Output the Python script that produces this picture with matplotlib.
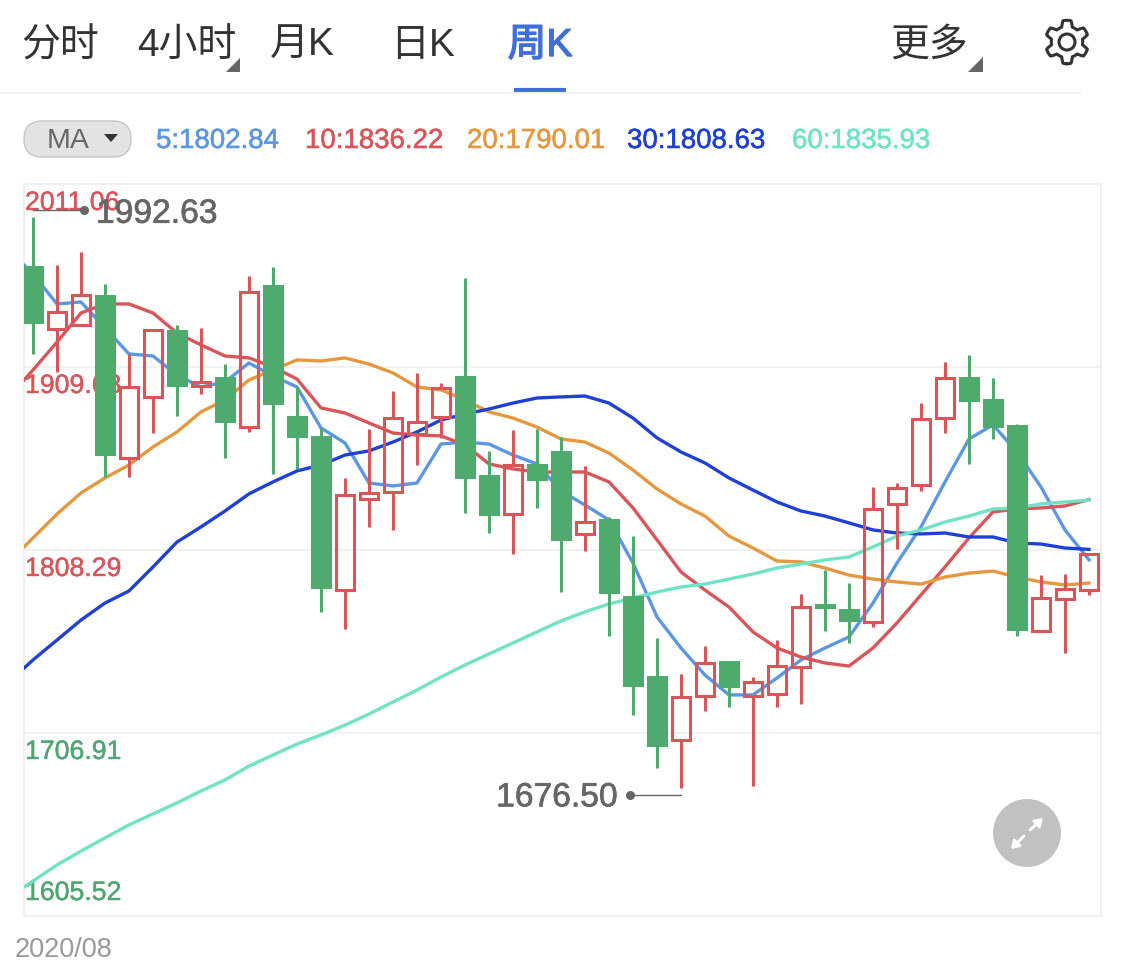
import matplotlib
matplotlib.use('Agg')
import matplotlib.pyplot as plt
import matplotlib.patheffects as pe
from matplotlib.patches import Circle, FancyBboxPatch, Polygon
from matplotlib.transforms import offset_copy
import numpy as np

plt.rcParams['font.family'] = ['Liberation Sans', 'Noto Sans CJK SC']

# weekly candles
opens = [1965.6, 1930.7, 1933.0, 1949.6, 1859.3, 1893.1, 1930.2, 1899.2, 1904.1, 1876.4, 1955.1, 1882.5,
         1871.5, 1786.1, 1836.6, 1840.4, 1872.6, 1882.0, 1904.7, 1849.9, 1828.2, 1856.0, 1863.2, 1817.2,
         1825.5, 1782.8, 1738.5, 1703.0, 1727.4, 1746.8, 1727.4, 1728.5, 1743.5, 1778.4, 1775.6, 1768.4,
         1833.8, 1844.3, 1881.4, 1904.1, 1892.0, 1877.6, 1763.4, 1781.2, 1786.1]
closes = [1933.5, 1940.2, 1949.6, 1860.4, 1898.6, 1930.2, 1898.6, 1901.4, 1878.7, 1951.2, 1888.6, 1870.4,
          1786.7, 1838.8, 1839.9, 1881.4, 1879.2, 1898.0, 1847.6, 1827.1, 1855.4, 1846.5, 1813.3, 1823.8,
          1783.9, 1732.4, 1699.2, 1726.9, 1745.7, 1731.9, 1735.2, 1744.0, 1776.7, 1775.6, 1768.4, 1831.0,
          1842.7, 1880.9, 1903.6, 1890.3, 1875.9, 1763.4, 1781.7, 1786.7, 1806.1]
highs = [1992.63, 1966.2, 1973.4, 1955.7, 1916.9, 1930.2, 1933.0, 1931.3, 1911.3, 1960.1, 1965.1, 1898.6,
         1875.9, 1848.2, 1875.4, 1896.4, 1906.4, 1900.8, 1959.0, 1863.2, 1874.8, 1875.4, 1870.9, 1854.8,
         1826.6, 1816.0, 1759.5, 1739.6, 1755.1, 1746.8, 1737.9, 1758.4, 1783.9, 1797.2, 1790.0, 1843.2,
         1845.4, 1889.7, 1912.4, 1916.3, 1903.6, 1878.1, 1794.4, 1795.0, 1806.1]
lows = [1916.9, 1906.9, 1933.0, 1848.7, 1848.7, 1873.1, 1882.5, 1894.7, 1859.3, 1873.7, 1850.4, 1853.2,
        1774.0, 1764.5, 1821.1, 1819.4, 1855.4, 1870.4, 1828.8, 1817.7, 1806.1, 1831.6, 1785.0, 1807.7,
        1760.7, 1716.9, 1687.5, 1676.5, 1719.1, 1721.3, 1677.6, 1721.3, 1723.0, 1763.4, 1756.8, 1765.7,
        1808.8, 1841.0, 1873.1, 1856.0, 1869.8, 1760.7, 1763.4, 1751.2, 1783.4]

# moving averages, first value sits one week left of the visible window
ma5 = [1974.5, 1961.2, 1944.6, 1945.7, 1931.3, 1916.9, 1915.8, 1905.2, 1898.6, 1901.4, 1911.9, 1904.7,
       1898.6, 1875.9, 1867.6, 1845.4, 1843.8, 1845.4, 1867.0, 1868.1, 1867.0, 1860.9, 1856.0, 1841.0,
       1833.2, 1824.9, 1801.1, 1771.2, 1754.0, 1739.0, 1728.0, 1728.0, 1737.4, 1747.4, 1754.0, 1760.1,
       1778.9, 1801.1, 1821.1, 1846.0, 1869.8, 1877.6, 1862.6, 1843.2, 1819.4, 1802.84]
ma10 = [1893.1, 1908.0, 1923.5, 1939.6, 1944.6, 1944.6, 1939.6, 1928.5, 1921.9, 1915.8, 1914.7, 1909.7,
        1903.0, 1887.0, 1884.2, 1878.7, 1873.1, 1872.0, 1871.5, 1866.5, 1856.0, 1853.2, 1851.5, 1851.5,
        1851.5, 1846.0, 1831.6, 1813.9, 1796.1, 1786.1, 1776.7, 1762.9, 1754.0, 1749.0, 1745.7, 1744.0,
        1754.0, 1767.9, 1783.4, 1798.9, 1815.0, 1829.4, 1831.0, 1831.6, 1832.7, 1836.22]
ma20 = [1801.7, 1815.0, 1828.2, 1839.9, 1848.2, 1855.4, 1865.4, 1873.7, 1884.8, 1891.4, 1902.5, 1908.0,
        1913.6, 1913.0, 1914.7, 1911.3, 1906.4, 1898.6, 1897.0, 1891.4, 1884.8, 1881.4, 1876.4, 1869.8,
        1868.1, 1862.0, 1852.6, 1842.1, 1833.8, 1827.1, 1816.0, 1809.4, 1802.2, 1801.7, 1798.3, 1794.4,
        1792.2, 1790.6, 1789.4, 1793.3, 1795.5, 1796.6, 1793.3, 1790.6, 1788.9, 1790.01]
ma30 = [1735.2, 1747.4, 1758.4, 1769.5, 1778.9, 1785.6, 1798.9, 1812.7, 1821.1, 1829.9, 1839.4, 1846.0,
        1852.1, 1855.4, 1860.9, 1863.2, 1868.1, 1873.7, 1880.3, 1883.6, 1886.4, 1889.7, 1892.5, 1893.1,
        1893.6, 1889.7, 1881.4, 1870.4, 1862.6, 1856.5, 1848.2, 1841.5, 1834.9, 1829.9, 1827.1, 1823.3,
        1819.4, 1817.7, 1817.2, 1817.7, 1815.5, 1815.5, 1812.2, 1811.6, 1809.4, 1808.63]
ma60 = [1616.1, 1624.9, 1633.8, 1641.5, 1648.8, 1656.0, 1662.1, 1668.2, 1674.8, 1680.9, 1688.6, 1694.7,
        1700.8, 1705.8, 1711.3, 1717.4, 1724.1, 1730.7, 1737.9, 1744.6, 1750.7, 1756.8, 1762.9, 1769.0,
        1774.0, 1778.4, 1781.7, 1785.0, 1787.8, 1789.4, 1792.2, 1795.0, 1798.3, 1800.5, 1802.8, 1804.4,
        1810.0, 1816.0, 1819.4, 1823.8, 1827.1, 1831.0, 1831.6, 1833.8, 1834.9, 1835.93]

tick_values = [2011.06, 1909.68, 1808.29, 1706.91, 1605.52]
tick_labels = ['2011.06', '1909.68', '1808.29', '1706.91', '1605.52']
tabs = ['分时', '4小时', '月K', '日K', '周K', '更多']
legend_labels = ['5:1802.84', '10:1836.22', '20:1790.01', '30:1808.63', '60:1835.93']

RED = '#d9555a'
GREEN = '#4faa6d'
BLUE = '#5c97e5'
ORANGE = '#e5983f'
NAVY = '#1f40d6'
MINT = '#70e3c4'
GRID = '#f1f1f1'
ma_colors = [BLUE, RED, ORANGE, NAVY, MINT]


def heavier(txt, clr, w=0.5):
    # the screenshot text is a bit fatter than Liberation regular
    txt.set_path_effects([pe.withStroke(linewidth=w, foreground=clr)])


fig = plt.figure(figsize=(11.25, 9.65), dpi=100)
ax = fig.add_axes([24/1125, 49/965, 1077/1125, 732/965])

# lines first, candles over them
days = np.arange(len(opens))
ma_x = np.arange(-1, len(opens))
for ma, clr in zip([ma5, ma10, ma20, ma30, ma60], ma_colors):
    ax.plot(ma_x, ma, color=clr, lw=2.4, zorder=3, solid_joinstyle='round')

opens = np.array(opens)
closes = np.array(closes)
highs = np.array(highs)
lows = np.array(lows)
top = np.maximum(opens, closes)
bottom = np.minimum(opens, closes)
up = closes >= opens

ax.vlines(days[up], top[up], highs[up], color=RED, lw=2.2, zorder=4)
ax.vlines(days[up], lows[up], bottom[up], color=RED, lw=2.2, zorder=4)
ax.vlines(days[~up], lows[~up], highs[~up], color=GREEN, lw=2.2, zorder=4)
ax.bar(days[~up], (top - bottom)[~up], bottom=bottom[~up], width=0.875, color=GREEN, zorder=5)
ax.bar(days[up], (top - bottom)[up], bottom=bottom[up], width=0.74, facecolor='none',
       edgecolor=RED, lw=2.2, zorder=5)

ax.set_xlim(-0.375, 44.5)
ax.set_ylim(tick_values[-1], tick_values[0])
ax.set_xticks([])
ax.set_yticks([])
for s in ax.spines.values():
    s.set_color('#f0f0f0')
    s.set_linewidth(1.5)
for v in tick_values[1:-1]:
    ax.axhline(v, color=GRID, lw=1.5, zorder=1)

# price labels sit inside the plot, under the candles
for i, (v, lab) in enumerate(zip(tick_values, tick_labels)):
    clr = RED if v > 1750 else '#4fa673'
    dy = 23 if i == len(tick_values) - 1 else -19
    t = ax.annotate(lab, xy=(0, v), xycoords=('axes fraction', 'data'), xytext=(1, dy),
                    textcoords='offset pixels', color=clr, fontsize=19.2, va='center', ha='left', zorder=2,
                    annotation_clip=False)
    heavier(t, clr, 0.3)

# high / low markers
i_hi = int(np.argmax(highs))
i_lo = int(np.argmin(lows))
up7 = offset_copy(ax.transData, fig=fig, y=7, units='dots')
down7 = offset_copy(ax.transData, fig=fig, y=-7, units='dots')
ax.plot([i_hi, i_hi + 2], [highs[i_hi]] * 2, color='#666666', lw=1, transform=up7, zorder=6, clip_on=False)
ax.plot([i_hi + 2.13], [highs[i_hi]], 'o', color='#666666', ms=5.5, transform=up7, zorder=6, clip_on=False)
t = ax.annotate('%.2f' % highs[i_hi], xy=(i_hi, highs[i_hi]), xytext=(63, 3), textcoords='offset pixels',
                color='#666666', fontsize=24.2, va='center', ha='left', zorder=6)
heavier(t, '#666666')
ax.plot([i_lo, i_lo - 2], [lows[i_lo]] * 2, color='#666666', lw=1, transform=down7, zorder=6)
ax.plot([i_lo - 2.13], [lows[i_lo]], 'o', color='#666666', ms=5.5, transform=down7, zorder=6)
t = ax.annotate('%.2f' % lows[i_lo], xy=(i_lo, lows[i_lo]), xytext=(-63, -10), textcoords='offset pixels',
                color='#666666', fontsize=24.2, va='center', ha='right', zorder=6)
heavier(t, '#666666')

# page furniture, in pixels of the screenshot
ui = fig.add_axes([0, 0, 1, 1], facecolor='none')
ui.set_xlim(0, 1125)
ui.set_ylim(965, 0)
ui.axis('off')

tab_x = [60, 187, 302, 423, 540, 929]
for name, x in zip(tabs, tab_x):
    clr = '#3f6fd8' if name == '周K' else '#333333'
    t = ui.text(x, 46, name, color=clr, fontsize=28, ha='center', va='center')
    if name == '周K':
        heavier(t, clr, 1.0)
ui.plot([514, 566], [90, 90], color='#3f6fd8', lw=3, solid_capstyle='butt')
ui.plot([0, 1080], [93, 93], color='#f1f1f1', lw=1.5)
ui.add_patch(Polygon([[240, 58], [240, 72], [226, 72]], color='#666666', lw=0))
ui.add_patch(Polygon([[983, 57], [983, 72], [968, 72]], color='#666666', lw=0))

# settings gear
a = np.linspace(0, 2 * np.pi, 361)
r = 18.7 + 3 * np.clip(2.2 * np.cos(6 * a), -1, 1)
ui.plot(1067 + r * np.sin(a), 42 + r * np.cos(a), color='#333333', lw=2.2)
ui.add_patch(Circle((1067, 42), 8, fill=False, edgecolor='#333333', lw=2.2))

# MA pill and legend
ui.add_patch(FancyBboxPatch((24, 121), 107, 36, boxstyle='round,pad=0,rounding_size=18',
                            facecolor='#e3e3e3', edgecolor='#c6c6c6', lw=1))
ui.text(68, 141, 'MA', color='#666666', fontsize=20.5, ha='center', va='center')
ui.add_patch(Polygon([[104, 134], [118, 134], [111, 142]], color='#333333', lw=0))
legend_x = [156, 305, 467, 627, 792]
for lab, x, clr in zip(legend_labels, legend_x, ma_colors):
    t = ui.text(x, 141, lab, color=clr, fontsize=19.9, ha='left', va='center')
    heavier(t, clr, 0.4)

# expand button
ui.add_patch(Circle((1027, 833), 34, color='#c1c1c1', lw=0))
ui.annotate('', xy=(1043, 818), xytext=(1030, 830),
            arrowprops=dict(arrowstyle='-|>,head_width=0.3,head_length=0.45', color='white', lw=2, shrinkA=0, shrinkB=0))
ui.annotate('', xy=(1011, 849), xytext=(1024, 836),
            arrowprops=dict(arrowstyle='-|>,head_width=0.3,head_length=0.45', color='white', lw=2, shrinkA=0, shrinkB=0))

ui.text(15, 950, '2020/08', color='#999999', fontsize=19.5, ha='left', va='center')

fig.savefig('out.png', dpi=100)
